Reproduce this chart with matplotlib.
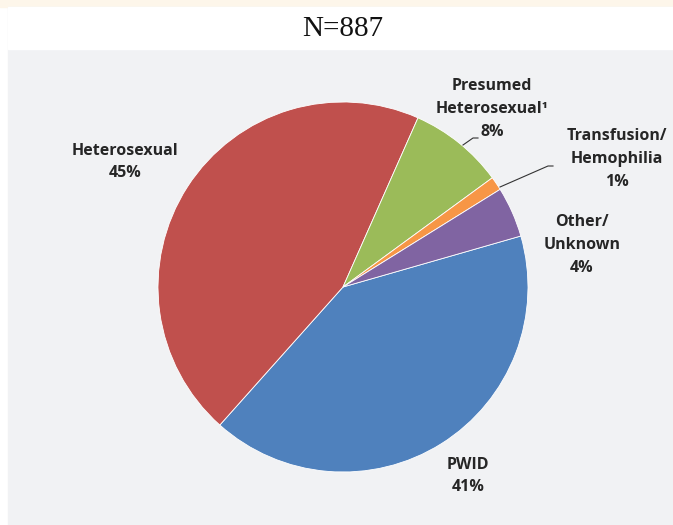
import matplotlib.pyplot as plt
from matplotlib.patches import Rectangle

# %% Dados
categorias = ["PWID", "Heterosexual", "Presumed\nHeterosexual¹", "Transfusion/\nHemophilia", "Other/\nUnknown"]
percentuais = [41.0, 45.0, 8.3, 1.2, 4.4]
rotulos_pct = ["41%", "45%", "8%", "1%", "4%"]
cores = ["#4f81bd", "#c0504d", "#9bbb59", "#f79646", "#8064a2"]
titulo = "N=887"

# %% Figura (coordenadas em pixels, y para cima)
W, H = 673, 525
fig = plt.figure(figsize=(W / 100, H / 100), dpi=100)
ax = fig.add_axes([0, 0, 1, 1])

def py(y):
    return H - y

# fundo
ax.add_patch(Rectangle((0, py(7)), W, 7, color="#fdf6ea", zorder=0))
ax.add_patch(Rectangle((8, 0), W - 8, py(7), color="#f1f2f4", zorder=0))
ax.add_patch(Rectangle((8, py(49)), W - 8, 42, color="white", zorder=1))
ax.text(343, py(29), titulo, ha="center", va="center", fontsize=21,
        family="Liberation Serif", color="#111111", zorder=2)

# pizza
ax.pie(percentuais, colors=cores, startangle=16, counterclock=False,
       center=(343, py(287)), radius=185,
       wedgeprops=dict(edgecolor="white", linewidth=0.6), frame=True)
ax.set_xlim(0, W)
ax.set_ylim(0, H)
ax.set_aspect("equal")
ax.axis("off")

# rotulos
pos_rotulos = [(468, 476), (125, 162), (492, 109), (617, 159), (582, 245)]
fonte = dict(family="Open Sans", fontweight="bold", fontsize=11.5, color="#262626",
             ha="center", va="center", linespacing=1.55)
for cat, pct, (x, y) in zip(categorias, rotulos_pct, pos_rotulos):
    ax.text(x, py(y), cat + "\n" + pct, zorder=3, **fonte)

# linhas de chamada
ax.plot([463, 473, 478], [py(145), py(138), py(138)], color="#333333", lw=0.8, zorder=3)
ax.plot([500, 548, 553], [py(187), py(166), py(166)], color="#333333", lw=0.8, zorder=3)

fig.savefig("out.png", dpi=100)
